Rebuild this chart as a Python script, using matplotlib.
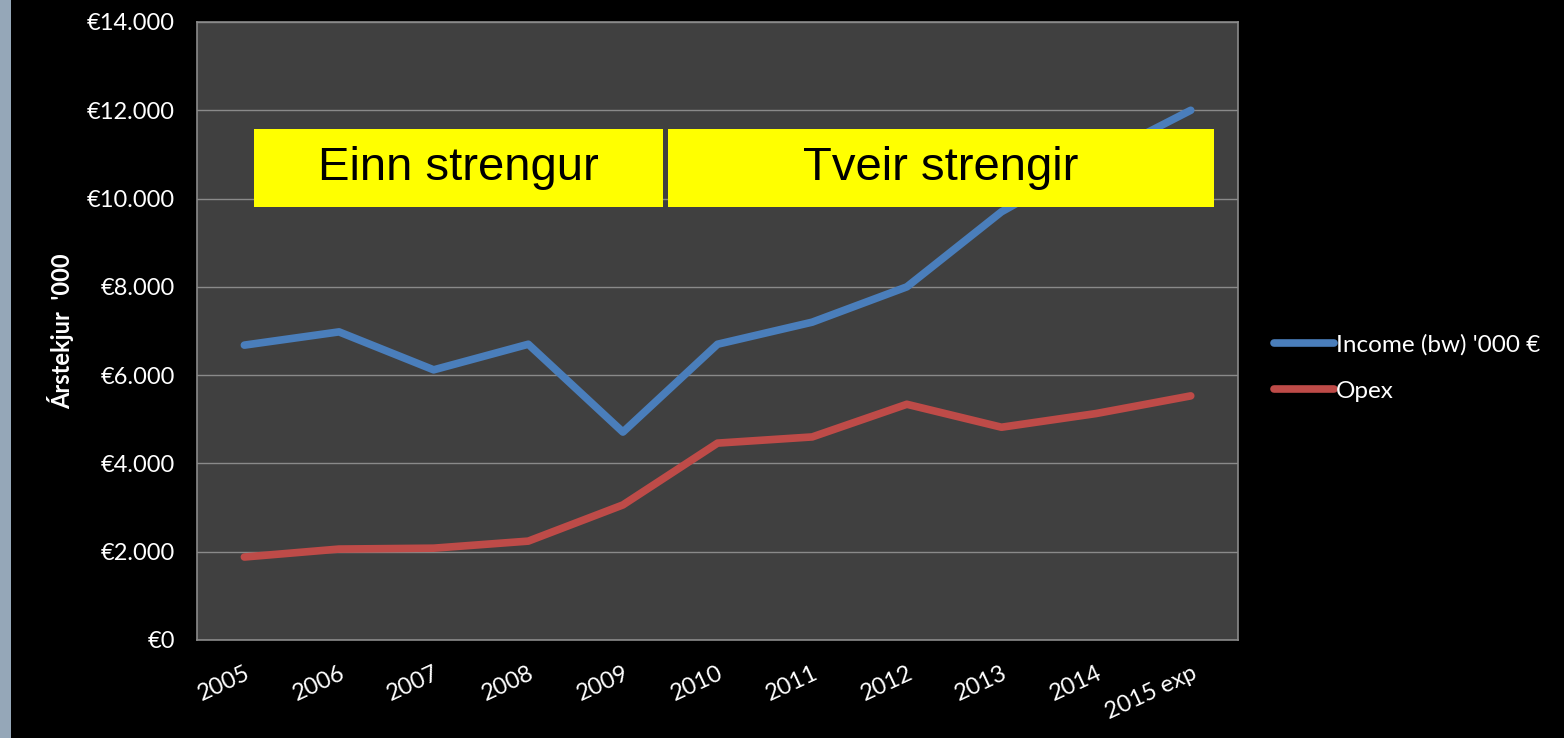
import matplotlib
matplotlib.use("Agg")
import matplotlib.pyplot as plt
from matplotlib.patches import Rectangle
from matplotlib.ticker import FuncFormatter, MultipleLocator

# data
years = ["2005", "2006", "2007", "2008", "2009", "2010",
         "2011", "2012", "2013", "2014", "2015 exp"]
income = [6680, 6980, 6120, 6700, 4710, 6700, 7200, 8000, 9700, 10900, 12000]
opex = [1880, 2060, 2080, 2240, 3060, 4460, 4600, 5340, 4820, 5130, 5530]

blue = "#4a7ebb"
red = "#be4b48"
grid_col = "#8a8a8a"

plt.rcParams["font.family"] = ["Lato", "DejaVu Sans"]

fig = plt.figure(figsize=(15.64, 7.38), dpi=100, facecolor="black")
ax = fig.add_axes([0.126, 0.1328, 0.6656, 0.8374])
ax.set_facecolor("#404040")

# grey-blue strip at the left edge of the slide
fig.patches.append(Rectangle((0, 0), 0.007, 1, transform=fig.transFigure,
                             facecolor="#95a7b8", edgecolor="none"))

x = list(range(len(years)))
ax.plot(x, income, color=blue, lw=5.5, solid_capstyle="round",
        solid_joinstyle="round", label="Income (bw) '000 €", zorder=3)
ax.plot(x, opex, color=red, lw=5.5, solid_capstyle="round",
        solid_joinstyle="round", label="Opex", zorder=3)

ax.set_xlim(-0.5, len(years) - 0.5)
ax.set_ylim(0, 14000)
ax.yaxis.set_major_locator(MultipleLocator(2000))
ax.yaxis.set_major_formatter(
    FuncFormatter(lambda v, p: "€" + f"{v:,.0f}".replace(",", ".")))
ax.grid(axis="y", color=grid_col, lw=1)
ax.set_axisbelow(True)
for s in ax.spines.values():
    s.set_color(grid_col)
    s.set_linewidth(1.2)

ax.set_xticks(x)
ax.set_xticklabels(years, rotation=25, ha="right", rotation_mode="anchor")
ax.tick_params(axis="x", length=0, pad=16, labelsize=17, colors="white")
ax.tick_params(axis="y", length=0, pad=16, labelsize=17, colors="white")
ax.set_ylabel("Árstekjur  '000", color="white", fontsize=17,
              fontweight="bold", labelpad=9)

# yellow label boxes
boxes = [("Einn strengur", 0.0548, 0.4476), ("Tveir strengir", 0.4524, 0.977)]
for txt, x0, x1 in boxes:
    ax.add_patch(Rectangle((x0, 0.7006), x1 - x0, 0.1263, transform=ax.transAxes,
                           facecolor="#ffff00", edgecolor="none", zorder=5))
    ax.text((x0 + x1) / 2, 0.7638, txt, transform=ax.transAxes, ha="center",
            va="center", fontsize=34, color="black", zorder=6,
            family="Liberation Sans")

leg = fig.legend(loc="center left", bbox_to_anchor=(0.8146, 0.5015),
                 frameon=False, fontsize=17.5, handlelength=2.45,
                 handletextpad=0.1, labelspacing=1.05, borderpad=0,
                 borderaxespad=0)
for t in leg.get_texts():
    t.set_color("white")

fig.savefig("out.png", dpi=100, facecolor="black")
